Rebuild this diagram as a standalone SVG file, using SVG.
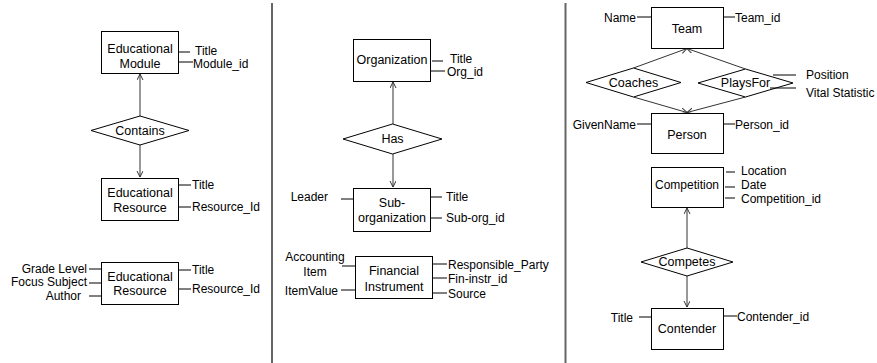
<svg xmlns="http://www.w3.org/2000/svg" width="877" height="363" viewBox="0 0 877 363">
<defs>
<marker id="arr" markerWidth="8" markerHeight="8" refX="6" refY="3" orient="auto" markerUnits="userSpaceOnUse">
<path d="M0,0 L6,3 L0,6" fill="none" stroke="#333" stroke-width="1"/>
</marker>
<style>
text{font-family:"Liberation Sans",Arial,sans-serif;font-size:12px;fill:#000}
.m{text-anchor:middle}
.b{font-size:12.5px}
.e{text-anchor:end}
.box{fill:#fff;stroke:#000;stroke-width:1}
.dia{fill:#fff;stroke:#000;stroke-width:1}
.at{stroke:#000;stroke-width:1;fill:none}
.c{stroke:#333;stroke-width:1;fill:none}
.div{stroke:#666;stroke-width:2}
</style>
</defs>
<rect width="877" height="363" fill="#fff"/>
<g id="dividers">
<line class="div" x1="272" y1="3" x2="272" y2="363"/>
<line class="div" x1="565.5" y1="3" x2="565.5" y2="363"/>
</g>
<g id="connectors">
<line class="c" x1="140" y1="116" x2="140" y2="74" marker-end="url(#arr)"/>
<line class="c" x1="140" y1="145" x2="140" y2="177" marker-end="url(#arr)"/>
<line class="c" x1="393" y1="124" x2="393" y2="82" marker-end="url(#arr)"/>
<line class="c" x1="393" y1="154" x2="393" y2="187" marker-end="url(#arr)"/>
<line class="c" x1="633.5" y1="68" x2="687" y2="48.5" marker-end="url(#arr)"/>
<line class="c" x1="745.5" y1="69" x2="687" y2="48.5" marker-end="url(#arr)"/>
<line class="c" x1="633.5" y1="97" x2="687" y2="112.5" marker-end="url(#arr)"/>
<line class="c" x1="745.5" y1="97" x2="687" y2="112.5" marker-end="url(#arr)"/>
<line class="c" x1="687" y1="248" x2="687" y2="208" marker-end="url(#arr)"/>
<line class="c" x1="687" y1="276" x2="687" y2="307" marker-end="url(#arr)"/>
</g>
<g id="edu-module">
<rect class="box" x="101.5" y="31.5" width="77" height="42"/>
<text class="m b" x="140" y="53">Educational</text>
<text class="m b" x="140" y="68">Module</text>
<line class="at" x1="179" y1="52" x2="190" y2="52"/>
<text x="195" y="55">Title</text>
<line class="at" x1="179" y1="62" x2="193" y2="62"/>
<text x="193" y="68">Module_id</text>
</g>
<g id="contains">
<polygon class="dia" points="91,130.5 140,116 189,130.5 140,145"/>
<text class="m b" x="140" y="135">Contains</text>
</g>
<g id="edu-resource-1">
<rect class="box" x="101.5" y="178.5" width="77" height="42"/>
<text class="m b" x="140" y="197">Educational</text>
<text class="m b" x="140" y="212">Resource</text>
<line class="at" x1="179" y1="185" x2="191" y2="185"/>
<text x="192" y="189">Title</text>
<line class="at" x1="179" y1="207" x2="191" y2="207"/>
<text x="192" y="211">Resource_Id</text>
</g>
<g id="edu-resource-2">
<rect class="box" x="101.5" y="262.5" width="77" height="42"/>
<text class="m b" x="140" y="281">Educational</text>
<text class="m b" x="140" y="295">Resource</text>
<line class="at" x1="179" y1="270" x2="191" y2="270"/>
<text x="192" y="274">Title</text>
<line class="at" x1="179" y1="289" x2="191" y2="289"/>
<text x="192" y="293">Resource_Id</text>
<line class="at" x1="89" y1="269" x2="101" y2="269"/>
<text class="e" x="87" y="273">Grade Level</text>
<line class="at" x1="89" y1="283" x2="101" y2="283"/>
<text class="e" x="87" y="286">Focus Subject</text>
<line class="at" x1="89" y1="296" x2="101" y2="296"/>
<text class="e" x="81" y="299.5">Author</text>
</g>
<g id="organization">
<rect class="box" x="353.5" y="39.5" width="77" height="42"/>
<text class="m b" x="392" y="64">Organization</text>
<line class="at" x1="432" y1="61" x2="443" y2="61"/>
<text x="450" y="63">Title</text>
<line class="at" x1="431" y1="71" x2="445" y2="71"/>
<text x="447" y="76">Org_id</text>
</g>
<g id="has">
<polygon class="dia" points="343,139 392.5,124 442,139 392.5,154"/>
<text class="m b" x="392.5" y="143">Has</text>
</g>
<g id="sub-organization">
<rect class="box" x="353.5" y="188.5" width="77" height="43"/>
<text class="m b" x="392" y="207">Sub-</text>
<text class="m b" x="392" y="222">organization</text>
<line class="at" x1="431" y1="197" x2="442" y2="197"/>
<text x="446" y="201">Title</text>
<line class="at" x1="431" y1="218" x2="442" y2="218"/>
<text x="446" y="222">Sub-org_id</text>
<line class="at" x1="341" y1="199" x2="353" y2="199"/>
<text class="e" x="328" y="201">Leader</text>
</g>
<g id="financial-instrument">
<rect class="box" x="355.5" y="256.5" width="77" height="42"/>
<text class="m b" x="394" y="275">Financial</text>
<text class="m b" x="394" y="291">Instrument</text>
<line class="at" x1="433" y1="264" x2="447" y2="264"/>
<text x="448" y="269">Responsible_Party</text>
<line class="at" x1="433" y1="278" x2="447" y2="278"/>
<text x="448" y="283">Fin-instr_id</text>
<line class="at" x1="433" y1="293" x2="447" y2="293"/>
<text x="448" y="298">Source</text>
<line class="at" x1="342" y1="266" x2="355" y2="266"/>
<text class="m" x="315" y="261">Accounting</text>
<text class="m" x="315" y="276">Item</text>
<line class="at" x1="341" y1="290" x2="355" y2="290"/>
<text class="e" x="338" y="295">ItemValue</text>
</g>
<g id="team">
<rect class="box" x="651.5" y="7.5" width="72" height="41"/>
<text class="m b" x="687" y="33">Team</text>
<line class="at" x1="637" y1="17" x2="651" y2="17"/>
<text class="e" x="636" y="22">Name</text>
<line class="at" x1="724" y1="17" x2="735" y2="17"/>
<text x="735" y="22">Team_id</text>
</g>
<g id="coaches">
<polygon class="dia" points="586,82.5 633.5,68 681,82.5 633.5,97"/>
<text class="m b" x="633.5" y="87">Coaches</text>
</g>
<g id="playsfor">
<polygon class="dia" points="698,83 745.5,69 793,83 745.5,97"/>
<text class="m b" x="745.5" y="87">PlaysFor</text>
<line class="at" x1="773" y1="75" x2="796" y2="75"/>
<text x="806" y="79">Position</text>
<line class="at" x1="770" y1="88" x2="796" y2="88"/>
<text x="806" y="97">Vital Statistic</text>
</g>
<g id="person">
<rect class="box" x="651.5" y="113.5" width="72" height="40"/>
<text class="m b" x="687" y="139">Person</text>
<line class="at" x1="637" y1="124" x2="651" y2="124"/>
<text class="e" x="636" y="129">GivenName</text>
<line class="at" x1="724" y1="124" x2="735" y2="124"/>
<text x="735" y="129">Person_id</text>
</g>
<g id="competition">
<rect class="box" x="651.5" y="167.5" width="72" height="40"/>
<text class="m" x="687" y="189">Competition</text>
<line class="at" x1="726" y1="172" x2="735" y2="172"/>
<text x="741" y="175">Location</text>
<line class="at" x1="725" y1="187" x2="735" y2="187"/>
<text x="741" y="189">Date</text>
<line class="at" x1="725" y1="198" x2="735" y2="198"/>
<text x="741" y="203">Competition_id</text>
</g>
<g id="competes">
<polygon class="dia" points="641,262 687,248 733,262 687,276"/>
<text class="m b" x="687" y="266">Competes</text>
</g>
<g id="contender">
<rect class="box" x="651.5" y="308.5" width="72" height="41"/>
<text class="m b" x="687" y="333">Contender</text>
<line class="at" x1="639" y1="317" x2="651" y2="317"/>
<text class="e" x="633" y="322">Title</text>
<line class="at" x1="724" y1="316" x2="737" y2="316"/>
<text x="737" y="321">Contender_id</text>
</g>
</svg>
